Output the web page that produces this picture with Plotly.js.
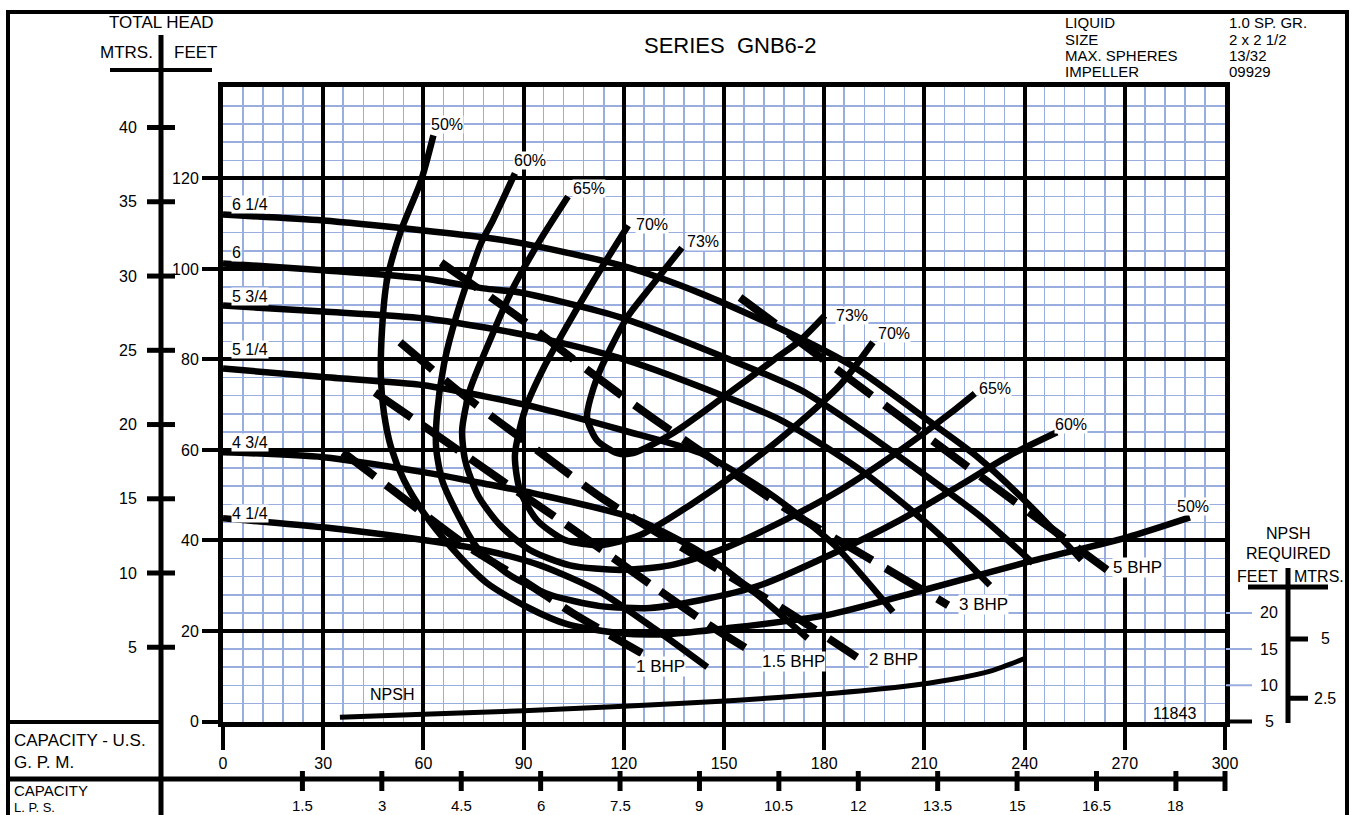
<!DOCTYPE html>
<html><head><meta charset="utf-8">
<script src="https://cdn.plot.ly/plotly-3.0.1.min.js"></script>
<style>html,body{margin:0;padding:0;background:#fff;overflow:hidden}#chart{width:1352px;height:815px}</style>
</head><body><div id="chart"></div>
<script>
// ---------------- DATA ----------------
const gpmTicks = [0,30,60,90,120,150,180,210,240,270,300];
const headTicks = [0,20,40,60,80,100,120];
const meterTicks = [5,10,15,20,25,30,35,40];
const lpsTicks = [1.5,3,4.5,6,7.5,9,10.5,12,13.5,15,16.5,18];
const npshFtTicks = [5,10,15,20];
const npshMTicks = [2.5,5];

// impeller head curves (gpm, feet)
const imp625Q = [0,30,60,78,90,120,143,168,189,211,226,242,257];
const imp625H = [112,110.7,108.5,107,105.6,100.6,94.6,86.4,78.3,66.6,58.4,47.4,35.7];
const imp6Q   = [0,30,60,78,89,119,151,173,187,211,227,242.5];
const imp6H   = [101.2,99.7,97.9,95.7,94.8,89.3,80.2,73.2,66.6,54.0,45.2,35.0];
const imp575Q = [0,30,60,78,95,121,151,167,191,213,229.6];
const imp575H = [91.9,90.6,89.1,87.1,84.7,79.8,71.6,66.6,55.5,42.3,30.1];
const imp525Q = [0,30,60,78,95,120,143,164,183,200.6];
const imp525H = [78.0,76.1,74.3,71.9,69.2,64.3,59.3,50.2,39.0,24.2];
const imp475Q = [0,30,60,78,93,123,143,159,175];
const imp475H = [59.5,58.4,55.1,52.6,50.4,44.9,37.4,28.6,18.4];
const imp425Q = [0,30,60,78,95,113,129,145];
const imp425H = [44.9,42.9,40.1,37.9,34.5,28.6,20.6,12.0];
const impLabels = ['6 1/4','6','5 3/4','5 1/4','4 3/4','4 1/4'];

// efficiency iso-lines
const eff50Q = [63,59.3,53.3,49.1,47.6,47.3,48.2,50.3,54.2,60.2,68.3,79,91,103,118.9,132.9,150.9,180.8,209.6,240.7,270.7,289.5];
const eff50H = [129.5,119.5,108.5,97.5,86.4,75.4,68.1,60.6,53.3,46,38.5,30.6,25.3,21.5,19.5,19.3,20.6,23.5,29,35.2,40.7,45.1];
const eff60Q = [87.4,80.8,77.2,70.1,66.2,64.1,63.8,65.6,70.1,76,85.9,97.9,112.9,127.8,142.8,160.8,181.7,202.7,220.7,235.6,249.7];
const eff60H = [121.1,110.7,105.6,90.2,79.1,68.1,60.6,53.3,46,38.5,32.3,28,25.5,25.1,26.8,30.1,36.8,44.5,52.2,58.8,63.9];
const eff65Q = [103.3,94.9,86.5,79.9,73.9,71.6,72.5,76.3,82.9,91.9,103.9,118.9,133.8,148.8,166.8,184.7,202.7,217.7,225.1];
const eff65H = [116,106.3,95.3,84.2,73.2,64.3,57.7,50,43.4,37.9,34.5,33.5,34.5,37.9,44,51.1,59.9,68.1,72.5];
const eff70Q = [121.3,112.9,103.9,96.4,90.4,87.4,88.9,94,102.4,112.9,124.9,139.8,154.8,169.8,184.7,194.6];
const eff70H = [109.6,99.7,88.6,78.7,68.8,58.8,51.1,44.5,40.1,39,41.2,47.8,55.5,64.3,74.3,83.8];
const eff73Q = [137.4,128.7,121,112,109,112,118,122.8,134.7,149.7,164.7,172.8,180.2];
const eff73H = [104.7,96.6,89.3,76,67.2,62.1,59.3,59.3,63.7,71.6,79.8,84.2,89.7];

// brake horsepower lines
const bhp1Q  = [35.9,50.9,71.9,91,104.8,125.4];
const bhp1H  = [59.5,51.1,39.4,30.6,23.9,15.1];
const bhp15Q = [45.5,62,82.9,103,127.8,146.4,159.9];
const bhp15H = [72.7,64.3,53.5,43.4,30.4,20.9,14.7];
const bhp2Q  = [53,71,88.9,114.4,148.8,169.8,189.8];
const bhp2H  = [83.8,72.7,62.8,48.9,33.4,23.9,14.2];
const bhp3Q  = [65.3,88.9,106.9,128.7,152.7,170.7,195.8,217.1];
const bhp3H  = [101.4,89.1,78.9,67,54.9,46,35,25.7];
const bhp5Q  = [154.8,223.1,264.7];
const bhp5H  = [93.7,56.2,33.5];

// NPSH required (feet of NPSH)
const npshQ = [35,60,90,120,153,180,203,218,230,240];
const npshF = [5.6,6.0,6.5,7.1,7.9,8.8,9.8,10.8,12.0,13.7];

// ---------------- LAYOUT HELPERS ----------------
const W=1352, H=815;
const FONT='Liberation Sans, Arial, sans-serif';
const BLUE='#9aaddf';
const px = x => x/W, py = y => 1 - y/H;
const FT_PER_M = 3.2808, GPM_PER_LPS = 15.850;
const NPSH_SCALE = 1.6; // head-ft per npsh-ft

function line(q,h,opt){
  opt = opt||{};
  return {x:q, y:h, type:'scatter', mode:'lines', hoverinfo:'skip', showlegend:false,
    yaxis: opt.yaxis||'y',
    line:{color:'#000', width:opt.width||6.5, shape:'spline', smoothing:0.7, dash:opt.dash||'solid'}};
}
const traces = [
  line(imp625Q,imp625H), line(imp6Q,imp6H), line(imp575Q,imp575H),
  line(imp525Q,imp525H), line(imp475Q,imp475H), line(imp425Q,imp425H),
  line(eff50Q,eff50H), line(eff60Q,eff60H), line(eff65Q,eff65H),
  line(eff70Q,eff70H), line(eff73Q,eff73H),
  line(bhp1Q,bhp1H,{width:8,dash:'40px,14px'}), line(bhp15Q,bhp15H,{width:8,dash:'44px,14px'}),
  line(bhp2Q,bhp2H,{width:8,dash:'42px,16px'}), line(bhp3Q,bhp3H,{width:8,dash:'44px,16px'}),
  line(bhp5Q,bhp5H,{width:8,dash:'44px,16px'}),
  line(npshQ,npshF,{width:5,yaxis:'y2'})
];

const ann = [];
function txt(x,y,t,o){
  o=o||{};
  ann.push(Object.assign({xref:'paper',yref:'paper',x:px(x),y:py(y),text:t,showarrow:false,
    xanchor:'left',yanchor:'middle',font:{family:FONT,size:16,color:'#000'},borderpad:0},o));
}
const F17={family:FONT,size:17,color:'#000'};
// header texts
txt(161,23,'TOTAL HEAD',{xanchor:'center',font:F17});
txt(154,53,'MTRS.',{xanchor:'right',font:F17});
txt(173,53,'FEET',{font:F17});
txt(730,45,'SERIES&nbsp;&nbsp;GNB6-2',{xanchor:'center',font:{family:FONT,size:22,color:'#000'}});
const info=[['LIQUID','1.0 SP. GR.'],['SIZE','2 x 2 1/2'],['MAX. SPHERES','13/32'],['IMPELLER','09929']];
info.forEach((r,i)=>{const y=23+i*16.3;
  txt(1064,y,r[0],{font:{family:FONT,size:15,color:'#000'}});
  txt(1228,y,r[1],{font:{family:FONT,size:15,color:'#000'}});});
txt(13,740,'CAPACITY - U.S.',{font:F17}); txt(13,762,'G. P. M.',{font:F17});
txt(13,790,'CAPACITY',{font:{family:FONT,size:15,color:'#000'}});
txt(13,807,'L. P. S.',{font:{family:FONT,size:13,color:'#000'}});
// meters axis labels
meterTicks.forEach(m=>ann.push({xref:'paper',yref:'y',x:px(139),y:m*FT_PER_M,text:String(m),showarrow:false,
  xanchor:'right',yanchor:'middle',font:{family:FONT,size:16,color:'#000'}}));
// L.P.S. labels
lpsTicks.forEach(l=>ann.push({xref:'x',yref:'paper',x:l*GPM_PER_LPS,y:py(805),text:String(l),showarrow:false,
  xanchor:'center',yanchor:'middle',font:{family:FONT,size:15,color:'#000'}}));
// NPSH axis labels
txt(1288,533,'NPSH',{xanchor:'center'}); txt(1288,553,'REQUIRED',{xanchor:'center'});
txt(1236,576,'FEET'); txt(1293,576,'MTRS.');
npshFtTicks.forEach(f=>ann.push({xref:'paper',yref:'y2',x:px(1269),y:f,text:String(f),showarrow:false,
  xanchor:'center',yanchor:'middle',font:{family:FONT,size:16,color:'#000'}}));
npshMTicks.forEach(m=>ann.push({xref:'paper',yref:'y2',x:px(1325),y:m*FT_PER_M,text:String(m),showarrow:false,
  xanchor:'center',yanchor:'middle',font:{family:FONT,size:16,color:'#000'}}));
txt(1152,713,'11843');
txt(369,694,'NPSH');
// curve labels
const impLabelY=[204,252,296,350,442,513];
impLabels.forEach((t,i)=>txt(231,impLabelY[i],t,{bgcolor:'#fff'}));
const effLab=[['50%',430,124],['60%',513,161],['65%',572,188],['70%',635,225],['73%',686,241],
  ['73%',835,315],['70%',877,333],['65%',978,388],['60%',1054,424],['50%',1176,507]];
effLab.forEach(e=>txt(e[1],e[2],e[0],{bgcolor:'#fff'}));
const bhpLab=[['1 BHP',635,666],['1.5 BHP',761,661],['2 BHP',868,659],['3 BHP',958,604],['5 BHP',1112,567]];
bhpLab.forEach(e=>txt(e[1],e[2],e[0],{bgcolor:'#fff',font:F17}));

// frame shapes
const shapes=[];
function seg(x0,y0,x1,y1,w,c){shapes.push({type:'line',xref:'paper',yref:'paper',x0:px(x0),y0:py(y0),x1:px(x1),y1:py(y1),line:{color:c||'#000',width:w||4},layer:'above'});}
shapes.push({type:'rect',xref:'paper',yref:'paper',x0:px(8),y0:py(12),x1:px(1347),y1:py(840),line:{color:'#000',width:4},layer:'above'});
seg(161,35,161,840,5);
seg(110,70,212,70,4);
seg(8,722,162,722,4);
seg(8,779,1227,779,5);
seg(1225,721.5,1252,721.5,4);
seg(1288,568,1288,723,5);
seg(1248,587,1328,587,5);
seg(1225,771,1225,791,5);
meterTicks.forEach(m=>shapes.push({type:'line',xref:'paper',yref:'y',x0:px(147),x1:px(175),y0:m*FT_PER_M,y1:m*FT_PER_M,line:{color:'#000',width:5}}));
lpsTicks.forEach(l=>shapes.push({type:'line',xref:'x',yref:'paper',x0:l*GPM_PER_LPS,x1:l*GPM_PER_LPS,y0:py(771),y1:py(791),line:{color:'#000',width:5}}));
[10,15,20].forEach(f=>shapes.push({type:'line',xref:'paper',yref:'y2',x0:px(1226),x1:px(1252),y0:f,y1:f,line:{color:BLUE,width:2}}));
npshMTicks.forEach(m=>shapes.push({type:'line',xref:'paper',yref:'y2',x0:px(1288),x1:px(1308),y0:m*FT_PER_M,y1:m*FT_PER_M,line:{color:'#000',width:5}}));

const layout={
  width:W,height:H,margin:{l:0,r:0,t:0,b:0},paper_bgcolor:'#fff',plot_bgcolor:'#fff',
  showlegend:false,font:{family:FONT,size:16,color:'#000'},
  xaxis:{domain:[px(223),px(1225)],range:[0,300],tickvals:gpmTicks,ticks:'outside',ticklen:23,tickwidth:4,tickcolor:'#000',
    showgrid:true,gridcolor:'#000',gridwidth:4,zeroline:false,showline:true,mirror:true,linewidth:5,linecolor:'#000',
    minor:{dtick:6,tick0:0,showgrid:true,gridcolor:BLUE,gridwidth:1.5,ticks:''},
    tickfont:{family:FONT,size:16,color:'#000'},fixedrange:true,automargin:false},
  yaxis:{domain:[py(721.5),py(87)],range:[0,140.2],tickvals:headTicks,ticks:'outside',ticklen:16,tickwidth:4,tickcolor:'#000',
    showgrid:true,gridcolor:'#000',gridwidth:4,zeroline:false,showline:true,mirror:true,linewidth:5,linecolor:'#000',
    minor:{dtick:4,tick0:0,showgrid:true,gridcolor:BLUE,gridwidth:1.5,ticks:''},
    tickfont:{family:FONT,size:16,color:'#000'},fixedrange:true,automargin:false},
  yaxis2:{overlaying:'y',anchor:'x',range:[5,5+140.2/NPSH_SCALE],visible:false,showgrid:false,zeroline:false},
  annotations:ann,shapes:shapes
};
Plotly.newPlot('chart',traces,layout,{displayModeBar:false,staticPlot:true});
</script></body></html>
